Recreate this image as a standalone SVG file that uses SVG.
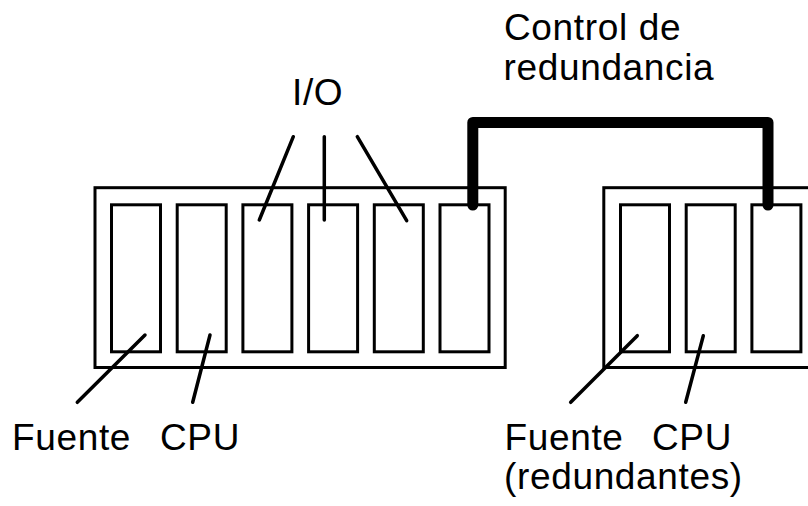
<svg xmlns="http://www.w3.org/2000/svg" width="808" height="506" viewBox="0 0 808 506">
  <style>
    .rack { fill: #ffffff; stroke: #000000; stroke-width: 3; }
    .slot { fill: #ffffff; stroke: #000000; stroke-width: 3; }
    .lead { fill: none; stroke: #000000; stroke-width: 3.5; stroke-linecap: round; }
    .cable { fill: none; stroke: #000000; stroke-width: 11; stroke-linecap: round; stroke-linejoin: round; }
    .lbl { font-family: "Liberation Sans", Arial, sans-serif; font-size: 37px; letter-spacing: 0.65px; fill: #000000; }
  </style>
  <rect width="808" height="506" fill="#ffffff"/>

  <g id="rack-main">
    <rect class="rack" x="95" y="187.7" width="410.2" height="179.8"/>
    <g id="slot-fuente"><rect class="slot" x="111.5" y="204.8" width="49" height="147"/></g>
    <g id="slot-cpu"><rect class="slot" x="177.2" y="204.8" width="49" height="147"/></g>
    <g id="slot-io1"><rect class="slot" x="242.9" y="204.8" width="49" height="147"/></g>
    <g id="slot-io2"><rect class="slot" x="308.6" y="204.8" width="49" height="147"/></g>
    <g id="slot-io3"><rect class="slot" x="374.3" y="204.8" width="49" height="147"/></g>
    <g id="slot-red1"><rect class="slot" x="440" y="204.8" width="49" height="147"/></g>
  </g>

  <g id="rack-redundant">
    <rect class="rack" x="603.8" y="187.7" width="410" height="179.8"/>
    <g id="slot-fuente-r"><rect class="slot" x="620.5" y="204.8" width="49" height="147"/></g>
    <g id="slot-cpu-r"><rect class="slot" x="686.2" y="204.8" width="49" height="147"/></g>
    <g id="slot-red2"><rect class="slot" x="751.9" y="204.8" width="49" height="147"/></g>
  </g>

  <g id="connectors">
    <polyline class="cable" points="472.8,205 472.8,122.5 768,122.5 768,205"/>
    <line class="lead" x1="293.3" y1="136.7" x2="259.3" y2="220"/>
    <line class="lead" x1="324.3" y1="136.7" x2="324.3" y2="220"/>
    <line class="lead" x1="357.3" y1="136.7" x2="406.7" y2="220.7"/>
    <line class="lead" x1="77.3" y1="402.3" x2="145" y2="335"/>
    <line class="lead" x1="192.7" y1="402.3" x2="210" y2="335"/>
    <line class="lead" x1="570.7" y1="402.3" x2="637.3" y2="335.7"/>
    <line class="lead" x1="685.7" y1="402.3" x2="703.3" y2="335.7"/>
  </g>

  <g id="label-io"><text class="lbl" x="292" y="105">I/O</text></g>
  <g id="label-control">
    <text class="lbl" x="504" y="40">Control de</text>
    <text class="lbl" x="503.5" y="80">redundancia</text>
  </g>
  <g id="label-fuente"><text class="lbl" x="12" y="450">Fuente</text></g>
  <g id="label-cpu"><text class="lbl" x="160" y="450">CPU</text></g>
  <g id="label-redundantes">
    <text class="lbl" x="504.5" y="450">Fuente</text>
    <text class="lbl" x="652" y="450">CPU</text>
    <text class="lbl" x="504" y="489">(redundantes)</text>
  </g>
</svg>
